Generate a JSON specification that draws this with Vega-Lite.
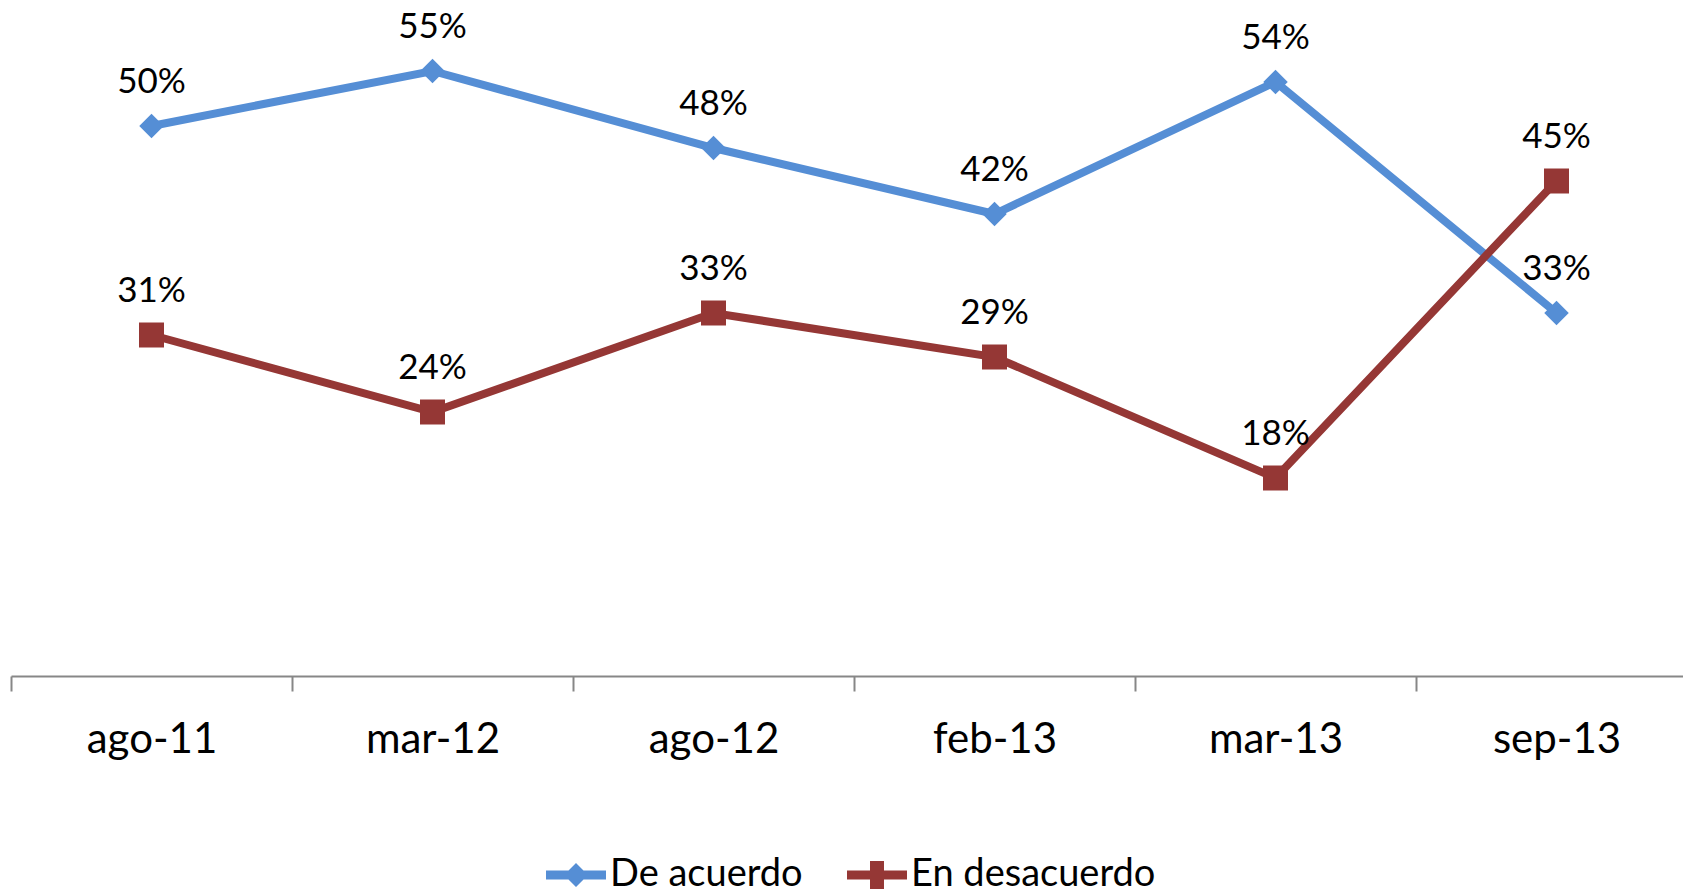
{
  "$schema": "https://vega.github.io/schema/vega-lite/v6.json",
  "width": 1672,
  "height": 660,
  "autosize": {"type": "none"},
  "padding": {"left": 11, "top": 16, "right": 0, "bottom": 217},
  "background": "white",
  "config": {"view": {"stroke": null}, "font": "Lato"},
  "data": {
    "values": [
      {"fecha": "ago-11", "serie": "De acuerdo", "v": 0.50},
      {"fecha": "mar-12", "serie": "De acuerdo", "v": 0.55},
      {"fecha": "ago-12", "serie": "De acuerdo", "v": 0.48},
      {"fecha": "feb-13", "serie": "De acuerdo", "v": 0.42},
      {"fecha": "mar-13", "serie": "De acuerdo", "v": 0.54},
      {"fecha": "sep-13", "serie": "De acuerdo", "v": 0.33},
      {"fecha": "ago-11", "serie": "En desacuerdo", "v": 0.31},
      {"fecha": "mar-12", "serie": "En desacuerdo", "v": 0.24},
      {"fecha": "ago-12", "serie": "En desacuerdo", "v": 0.33},
      {"fecha": "feb-13", "serie": "En desacuerdo", "v": 0.29},
      {"fecha": "mar-13", "serie": "En desacuerdo", "v": 0.18},
      {"fecha": "sep-13", "serie": "En desacuerdo", "v": 0.45}
    ]
  },
  "encoding": {
    "x": {
      "field": "fecha",
      "type": "nominal",
      "sort": null,
      "scale": {"range": [0, 1686], "paddingInner": 0, "paddingOuter": 0},
      "axis": {
        "title": null,
        "labelAngle": 0,
        "tickBand": "extent",
        "domainColor": "#878787",
        "domainWidth": 2,
        "tickColor": "#878787",
        "tickWidth": 2,
        "tickSize": 15,
        "labelFont": "Lato",
        "labelFontSize": 42,
        "labelColor": "black",
        "labelBaseline": "alphabetic",
        "labelPadding": 61,
        "grid": false
      }
    },
    "y": {
      "field": "v",
      "type": "quantitative",
      "scale": {"domain": [0, 0.6]},
      "axis": null
    },
    "color": {
      "field": "serie",
      "type": "nominal",
      "scale": {"domain": ["De acuerdo", "En desacuerdo"], "range": ["#558ED5", "#953735"]},
      "legend": {
        "orient": "none",
        "legendX": 535,
        "legendY": 829,
        "direction": "horizontal",
        "title": null,
        "symbolSize": 3600,
        "symbolStrokeWidth": 0,
        "labelFont": "Lato",
        "labelFontSize": 38,
        "labelColor": "black",
        "labelOffset": 4,
        "labelLimit": 500,
        "columnPadding": 44
      }
    }
  },
  "layer": [
    {
      "transform": [{"filter": "false"}],
      "mark": {"type": "point", "filled": true, "opacity": 1},
      "encoding": {
        "shape": {
          "field": "serie",
          "type": "nominal",
          "scale": {
            "domain": ["De acuerdo", "En desacuerdo"],
            "range": [
              "M-1,-0.15H1V0.15H-1Z M0,-0.4L0.4,0L0,0.4L-0.4,0Z",
              "M-1,-0.15H1V0.15H-1Z M-0.233,-0.467H0.233V0.467H-0.233Z"
            ]
          },
          "legend": {
            "orient": "none",
            "legendX": 535,
            "legendY": 829,
            "direction": "horizontal",
            "title": null,
            "symbolSize": 3600,
            "symbolStrokeWidth": 0,
            "labelFont": "Lato",
            "labelFontSize": 38,
            "labelColor": "black",
            "labelOffset": 4,
            "labelLimit": 500,
            "columnPadding": 44
          }
        }
      }
    },
    {
      "mark": {"type": "line", "strokeWidth": 8}
    },
    {
      "transform": [{"filter": "datum.serie == 'De acuerdo'"}],
      "mark": {"type": "point", "filled": true, "opacity": 1, "size": 600, "shape": "diamond"}
    },
    {
      "transform": [{"filter": "datum.serie == 'En desacuerdo'"}],
      "mark": {"type": "point", "filled": true, "opacity": 1, "size": 625, "shape": "square"}
    },
    {
      "mark": {"type": "text", "dy": -33, "baseline": "alphabetic", "fontSize": 35, "font": "Lato", "color": "black"},
      "encoding": {
        "text": {"field": "v", "type": "quantitative", "format": ".0%"},
        "color": {"value": "black"}
      }
    }
  ]
}
